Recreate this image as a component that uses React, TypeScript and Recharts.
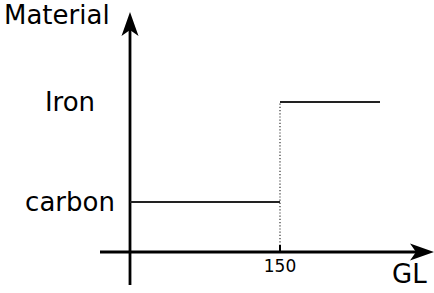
import React from 'react';
import { LineChart, Line, XAxis, YAxis, ReferenceLine } from 'recharts';

// GL breakpoints and material levels
const glBreaks = [0, 150, 250];
const glTicks = [150];
const materialNames = ['carbon', 'Iron'];
const materialLevels = [1, 3];

const data = [
  { gl: glBreaks[0], carbon: materialLevels[0] },
  { gl: glBreaks[1], carbon: materialLevels[0], iron: materialLevels[1] },
  { gl: glBreaks[2], iron: materialLevels[1] },
];

const FONT = '"DejaVu Sans", sans-serif';

// axis line with a stealth arrow head at the second point
const ArrowLine = (props: any) => {
  const { x1, y1, x2, y2 } = props;
  const dx = x2 - x1;
  const dy = y2 - y1;
  const len = Math.sqrt(dx * dx + dy * dy) || 1;
  const ux = dx / len;
  const uy = dy / len;
  const headLen = 24;
  const half = 8.5;
  const notch = 18;
  const bx = x2 - ux * headLen;
  const by = y2 - uy * headLen;
  const nx = x2 - ux * notch;
  const ny = y2 - uy * notch;
  const pts = [
    [x2, y2],
    [bx - uy * half, by + ux * half],
    [nx, ny],
    [bx + uy * half, by - ux * half],
  ]
    .map((p) => p.join(','))
    .join(' ');
  return (
    <g>
      <line x1={x1} y1={y1} x2={nx} y2={ny} stroke="#000" strokeWidth={2.8} />
      <polygon points={pts} fill="#000" />
    </g>
  );
};

const YTick = (props: any) => {
  const { y, payload } = props;
  const idx = materialLevels.indexOf(payload.value);
  return (
    <text x={70} y={y} textAnchor="middle" dominantBaseline="central" fontSize={26} fontFamily={FONT} fill="#000">
      {materialNames[idx]}
    </text>
  );
};

const XTick = (props: any) => {
  const { x, y, payload } = props;
  return (
    <g>
      <line x1={x} y1={y - 7} x2={x} y2={y} stroke="#000" strokeWidth={2} />
      <text x={x} y={y + 14} textAnchor="middle" dominantBaseline="central" fontSize={17} fontFamily={FONT} fill="#000">
        {payload.value}
      </text>
    </g>
  );
};

export default function App() {
  return (
    <div style={{ position: 'absolute', left: 0, top: 0, background: '#fff' }}>
      <LineChart width={434} height={293} data={data} margin={{ top: 0, right: 0, bottom: 0, left: 0 }}>
        <XAxis
          type="number"
          dataKey="gl"
          domain={[0, 304]}
          ticks={glTicks}
          height={41}
          axisLine={false}
          tickLine={false}
          tickSize={0}
          tickMargin={0}
          tick={<XTick />}
          label={{
            content: () => (
              <text x={392} y={283} fontSize={26} fontFamily={FONT} fill="#000">
                GL
              </text>
            ),
          }}
        />
        <YAxis
          type="number"
          domain={[0, 5.04]}
          ticks={materialLevels}
          width={130}
          axisLine={false}
          tickLine={false}
          tick={<YTick />}
          label={{
            content: () => (
              <text x={4} y={24} fontSize={26} fontFamily={FONT} fill="#000">
                Material
              </text>
            ),
          }}
        />
        <ReferenceLine
          segment={[{ x: glBreaks[1], y: 0 }, { x: glBreaks[1], y: materialLevels[1] }]}
          stroke="#333"
          strokeWidth={1.2}
          strokeDasharray="1.2 2"
          ifOverflow="visible"
        />
        <ReferenceLine
          segment={[{ x: -30, y: 0 }, { x: 304, y: 0 }]}
          ifOverflow="visible"
          shape={(p: any) => <ArrowLine {...p} />}
        />
        <ReferenceLine
          segment={[{ x: 0, y: -0.66 }, { x: 0, y: 4.8 }]}
          ifOverflow="visible"
          shape={(p: any) => <ArrowLine {...p} />}
        />
        <Line type="linear" dataKey="carbon" stroke="#222" strokeWidth={2} dot={false} isAnimationActive={false} />
        <Line type="linear" dataKey="iron" stroke="#222" strokeWidth={2} dot={false} isAnimationActive={false} />
      </LineChart>
    </div>
  );
}
